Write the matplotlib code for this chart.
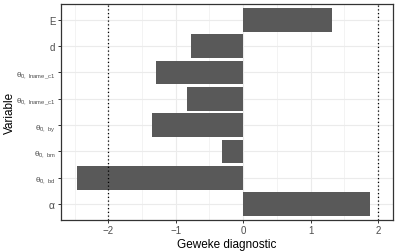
import matplotlib
matplotlib.use("Agg")
import matplotlib.pyplot as plt
from matplotlib.ticker import MultipleLocator

plt.rcParams['font.family'] = ['Liberation Sans', 'DejaVu Sans']
plt.rcParams['mathtext.fontset'] = 'custom'
plt.rcParams['mathtext.rm'] = 'Liberation Sans'
plt.rcParams['mathtext.it'] = 'Liberation Sans'

# variables from bottom to top, with their Geweke z-scores
variables = [r'$\alpha$', r'$\theta_{0,\ \mathrm{bd}}$', r'$\theta_{0,\ \mathrm{bm}}$',
             r'$\theta_{0,\ \mathrm{by}}$', r'$\theta_{0,\ \mathrm{lname\_c1}}$',
             r'$\theta_{0,\ \mathrm{lname\_c1}}$', 'd', 'E']
geweke = [1.88, -2.47, -0.31, -1.35, -0.84, -1.29, -0.77, 1.32]
cutoffs = [-2, 2]

fig = plt.figure(figsize=(3.99, 2.53), dpi=100)
ax = fig.add_axes([0.153, 0.127, 0.832, 0.853])

pos = list(range(1, len(variables) + 1))
ax.barh(pos, geweke, height=0.9, color='#595959', zorder=2)
for c in cutoffs:
    ax.axvline(c, color='black', linestyle=(0, (1, 2)), linewidth=0.9, zorder=3)

ax.set_xlim(-2.70, 2.22)
ax.set_ylim(0.4, len(variables) + 0.6)
ax.xaxis.set_minor_locator(MultipleLocator(0.5))
ax.set_xticks([-2, -1, 0, 1, 2])
ax.set_xticklabels(['\u22122', '\u22121', '0', '1', '2'])
ax.set_yticks(pos)
ax.set_yticklabels(variables)

ax.grid(True, which='major', color='#EBEBEB', linewidth=0.8, zorder=0)
ax.grid(True, which='minor', axis='x', color='#EBEBEB', linewidth=0.4, zorder=0)
ax.set_axisbelow(True)

for s in ax.spines.values():
    s.set_color('#333333')
    s.set_linewidth(0.9)

ax.tick_params(axis='both', which='major', colors='#333333', labelcolor='#4D4D4D',
               labelsize=7, length=2.5, width=0.7, pad=1.5)
ax.tick_params(axis='x', which='minor', length=0)
# math labels render larger, shrink the theta ones a bit
for lab in ax.get_yticklabels():
    if lab.get_text().startswith(r'$\theta'):
        lab.set_fontsize(6)
    elif lab.get_text().startswith('$'):
        lab.set_fontsize(7.5)

ax.set_xlabel('Geweke diagnostic', fontsize=8.5, color='black', labelpad=2)
ax.set_ylabel('Variable', fontsize=8.5, color='black')
ax.yaxis.set_label_coords(-0.135, 0.5)

fig.savefig('out.png', dpi=100)
